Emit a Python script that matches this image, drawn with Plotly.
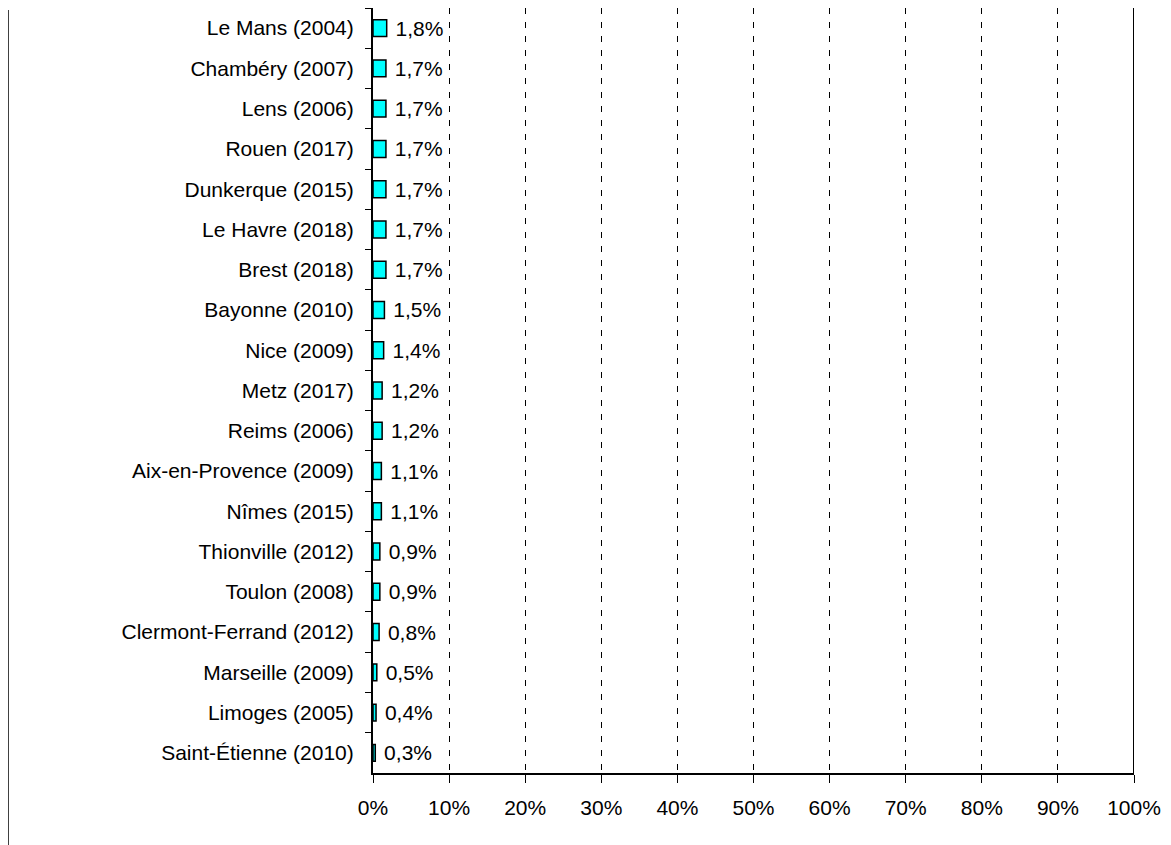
import plotly.graph_objects as go

cities = ["Le Mans (2004)", "Chambéry (2007)", "Lens (2006)", "Rouen (2017)", "Dunkerque (2015)",
          "Le Havre (2018)", "Brest (2018)", "Bayonne (2010)", "Nice (2009)", "Metz (2017)",
          "Reims (2006)", "Aix-en-Provence (2009)", "Nîmes (2015)", "Thionville (2012)",
          "Toulon (2008)", "Clermont-Ferrand (2012)", "Marseille (2009)", "Limoges (2005)",
          "Saint-Étienne (2010)"]
values = [1.8, 1.7, 1.7, 1.7, 1.7, 1.7, 1.7, 1.5, 1.4, 1.2, 1.2, 1.1, 1.1, 0.9, 0.9, 0.8, 0.5, 0.4, 0.3]
x_ticks = list(range(0, 101, 10))
x_tick_labels = [f"{t}%" for t in x_ticks]

# page body has an 8px margin; figure coordinates are offset by it
OFF = 8
W, H = 1171 - OFF, 845 - OFF
L, T = 373 - OFF, 8 - OFF
R = W - (1134 - OFF)
B = H - (773 - OFF)
pw, ph = W - L - R, H - T - B

FS = 21
fig = go.Figure(go.Bar(
    x=values, y=cities, orientation="h",
    marker=dict(color="#00FFFF", line=dict(color="black", width=1.5)),
    width=0.42,
    text=values, texttemplate="\u00a0%{x:.1f}%", textposition="outside",
    constraintext="none",
    textfont=dict(size=FS, color="black"), cliponaxis=False,
))

font = "Liberation Sans, Arial, sans-serif"
fig.update_layout(
    width=W, height=H, margin=dict(l=L, r=R, t=T, b=B),
    paper_bgcolor="white", plot_bgcolor="white",
    separators=", ", showlegend=False,
    font=dict(family=font, size=FS, color="black"),
    xaxis=dict(range=[0, 100], tickvals=x_ticks, ticktext=x_tick_labels,
               showgrid=True, gridcolor="black", griddash="6px,8px", gridwidth=1,
               showline=True, linecolor="black", linewidth=2,
               ticks="outside", ticklen=8, tickcolor="black", ticklabelstandoff=7,
               zeroline=False, fixedrange=True, automargin=False),
    yaxis=dict(autorange="reversed", showline=True, linecolor="black", linewidth=2,
               ticks="outside", ticklen=6, tickcolor="black", tickson="boundaries",
               showgrid=False, ticklabelstandoff=13, fixedrange=True, automargin=False),
)
# right border at 100%
fig.add_shape(type="line", xref="x", yref="paper", x0=100, x1=100, y0=0, y1=1,
              line=dict(color="black", width=2))
# left frame line of the chart area
fx = (8 - 373) / pw
fig.add_shape(type="line", xref="paper", yref="paper", x0=fx, x1=fx,
              y0=(773 - 10) / ph, y1=(773 - 845) / ph,
              line=dict(color="black", width=1.5))

fig.write_html("out.html")
